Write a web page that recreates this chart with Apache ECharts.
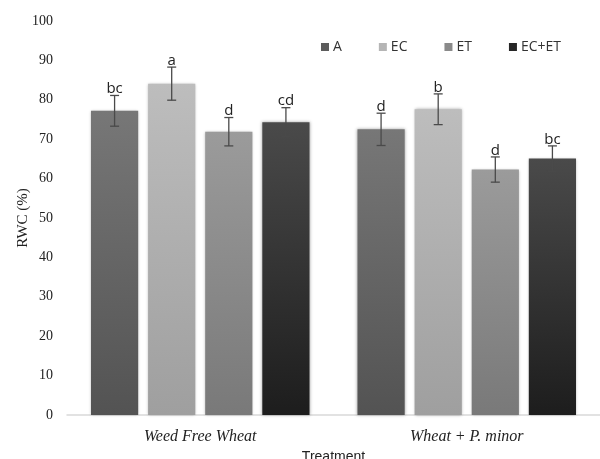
<!DOCTYPE html>
<html>
<head>
<meta charset="utf-8">
<script src="https://cdn.jsdelivr.net/npm/echarts@6/dist/echarts.min.js"></script>
<style>
  html, body { margin: 0; padding: 0; background: #fff; }
  #chart { width: 600px; height: 459px; }
</style>
</head>
<body>
<div id="chart"></div>
<script>
// treatments on the x axis
const categories = ['Weed Free Wheat', 'Wheat + P. minor']
const seriesNames = ['A', 'EC', 'ET', 'EC+ET']

// RWC (%) means, one array per series
const valA = [77.2, 72.5]
const valEC = [84.1, 77.6]
const valET = [71.9, 62.3]
const valECET = [74.3, 65.1]

// error bar half-widths
const errA = [3.9, 4.1]
const errEC = [4.2, 3.9]
const errET = [3.6, 3.2]
const errECET = [3.7, 3.2]

// significance letters
const letA = ['bc', 'd']
const letEC = ['a', 'b']
const letET = ['d', 'd']
const letECET = ['cd', 'bc']

const values = [valA, valEC, valET, valECET]
const errors = [errA, errEC, errET, errECET]
const letters = [letA, letEC, letET, letECET]

// top / bottom shade of each bar gradient
const shades = [
  ['#777777', '#535353'],
  ['#bdbdbd', '#9f9f9f'],
  ['#9b9b9b', '#797979'],
  ['#4a4a4a', '#1d1d1d'],
]
const legendColors = ['#5c5c5c', '#b5b5b5', '#8a8a8a', '#262626']

const chart = echarts.init(document.getElementById('chart'))

const BAR_CAT_GAP = '18%'
const BAR_GAP = '21%'

const barSeries = seriesNames.map((name, i) => ({
  name,
  type: 'bar',
  data: values[i],
  barGap: BAR_GAP,
  barCategoryGap: BAR_CAT_GAP,
  itemStyle: {
    color: new echarts.graphic.LinearGradient(0, 0, 0, 1, [
      { offset: 0, color: shades[i][0] },
      { offset: 1, color: shades[i][1] },
    ]),
    shadowBlur: 3,
    shadowColor: 'rgba(0,0,0,0.35)',
  },
}))

// error bars + letters drawn over each bar, using the bar layout
const errSeries = seriesNames.map((name, i) => ({
  name: name + '_err',
  type: 'custom',
  z: 5,
  data: categories.map((c, j) => [j, values[i][j], errors[i][j]]),
  encode: { x: 0, y: [1] },
  renderItem(params, api) {
    const idx = api.value(0)
    const mean = api.value(1)
    const err = api.value(2)
    const letter = letters[i][params.dataIndex]
    const catW = api.size([1, 0])[0]
    const usable = catW * (1 - 0.18)
    // 4 bars, 3 gaps of 21% bar width
    const bw = usable / (4 + 3 * 0.21)
    const center = api.coord([idx, 0])[0]
    const x = center - usable / 2 + i * bw * 1.21 + bw / 2
    const top = api.coord([idx, mean + err])[1]
    const bot = api.coord([idx, mean - err])[1]
    const cap = 4.5
    const st = { stroke: '#4a4a4a', lineWidth: 1.3 }
    return {
      type: 'group',
      children: [
        { type: 'line', shape: { x1: x, y1: top, x2: x, y2: bot }, style: st },
        { type: 'line', shape: { x1: x - cap, y1: top, x2: x + cap, y2: top }, style: st },
        { type: 'line', shape: { x1: x - cap, y1: bot, x2: x + cap, y2: bot }, style: st },
        {
          type: 'text',
          x: x,
          y: top + 1,
          style: {
            text: letter,
            align: 'center',
            verticalAlign: 'bottom',
            fontFamily: 'Open Sans',
            fontSize: 15,
            fill: '#222',
          },
        },
      ],
    }
  },
}))

chart.setOption({
  animation: false,
  backgroundColor: '#fff',
  grid: { left: 67, right: 0, top: 21, bottom: 44, outerBoundsMode: 'none', containLabel: false },
  legend: {
    data: seriesNames.map((n, i) => ({ name: n, itemStyle: { color: legendColors[i] } })),
    left: 316,
    top: 35,
    itemWidth: 8,
    itemHeight: 8,
    itemGap: 37,
    icon: 'rect',
    textStyle: { fontFamily: 'Open Sans', fontSize: 14, color: '#333', padding: [0, 0, 0, -1] },
  },
  xAxis: {
    type: 'category',
    data: categories,
    name: 'Treatment',
    nameLocation: 'middle',
    nameGap: 34,
    nameTextStyle: { fontFamily: 'Liberation Sans', fontSize: 14, color: '#222' },
    axisLine: { lineStyle: { color: '#d9d9d9', width: 1.5 } },
    axisTick: { show: false },
    axisLabel: {
      margin: 14,
      fontFamily: 'Liberation Serif',
      fontStyle: 'italic',
      fontSize: 16,
      color: '#222',
    },
  },
  yAxis: {
    type: 'value',
    min: 0,
    max: 100,
    interval: 10,
    name: 'RWC (%)',
    nameLocation: 'middle',
    nameGap: 36,
    nameMoveOverlap: false,
    nameTextStyle: { fontFamily: 'Liberation Serif', fontSize: 15, color: '#222' },
    axisLine: { show: false },
    axisTick: { show: false },
    splitLine: { show: false },
    axisLabel: {
      margin: 14,
      fontFamily: 'Liberation Serif',
      fontSize: 14,
      color: '#222',
    },
  },
  series: [...barSeries, ...errSeries],
})
</script>
</body>
</html>
